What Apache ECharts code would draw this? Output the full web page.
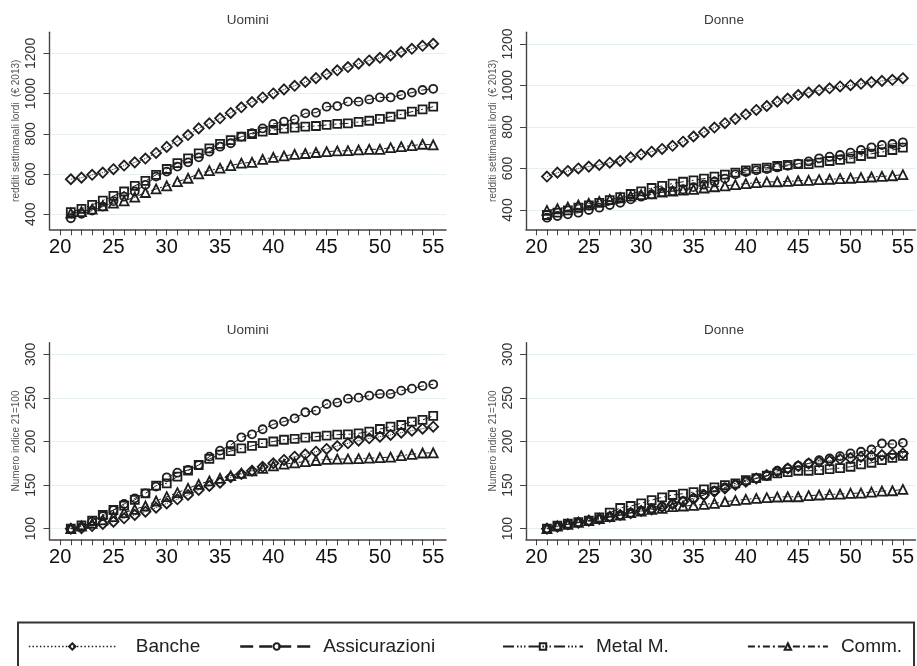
<!DOCTYPE html>
<html><head><meta charset="utf-8">
<script src="https://cdn.jsdelivr.net/npm/echarts@6/dist/echarts.min.js"></script>
<style>html,body{margin:0;padding:0;background:#fff}#c{width:917px;height:666px}</style>
</head><body><div id="c"></div>
<script>
// ---------- DATA ----------
const ages = [21,22,23,24,25,26,27,28,29,30,31,32,33,34,35,36,37,38,39,40,41,42,43,44,45,46,47,48,49,50,51,52,53,54,55];
const xTickValues = [20,21,22,23,24,25,26,27,28,29,30,31,32,33,34,35,36,37,38,39,40,41,42,43,44,45,46,47,48,49,50,51,52,53,54,55];
const xLabelValues = [20,25,30,35,40,45,50,55];
const yTicksEuro = [400,600,800,1000,1200];
const yTicksIndex = [100,150,200,250,300];
const seriesNames = ['Banche','Assicurazioni','Metal M.','Comm.'];
const panelTitles = ['Uomini','Donne','Uomini','Donne'];
const yNames = ['redditi settimanali lordi  (€ 2013)','redditi settimanali lordi  (€ 2013)','Numero indice 21=100','Numero indice 21=100'];

// Top-left: Uomini, weekly gross earnings (€ 2013)
const banche_U = [574,582,596,607,624,642,658,677,705,735,764,794,827,852,877,904,932,958,981,1001,1021,1039,1058,1077,1097,1116,1132,1149,1165,1178,1190,1207,1223,1238,1248];
const assic_U  = [380,402,418,438,465,488,513,546,587,612,637,658,683,711,736,753,786,803,827,849,861,872,902,905,935,938,960,960,971,981,981,993,1005,1018,1024];
const metal_U  = [410,427,447,468,491,513,541,566,596,625,654,678,703,728,750,769,786,799,811,819,826,831,836,839,844,849,852,859,865,874,885,897,910,922,935];
const comm_U   = [405,413,425,442,455,466,485,508,526,541,562,579,601,617,629,642,654,658,673,683,690,698,702,707,711,715,716,720,723,723,731,736,741,748,745];

// Top-right: Donne, weekly gross earnings (€ 2013)
const banche_D = [561,580,588,600,609,617,628,636,654,668,681,694,709,729,754,775,797,818,839,861,882,901,922,937,954,966,977,986,995,1001,1008,1016,1022,1027,1035];
const assic_D  = [363,371,379,387,400,411,424,435,451,464,475,486,491,499,510,522,536,551,572,583,591,597,605,613,623,634,649,657,665,676,689,702,713,718,726];
const metal_D  = [376,387,398,411,422,434,448,462,477,490,506,516,527,536,543,551,561,570,580,591,599,604,612,617,621,621,628,636,641,647,660,671,679,689,700];
const comm_D   = [398,406,414,424,432,441,451,459,467,474,478,486,491,496,499,506,512,516,522,527,532,535,536,538,541,543,546,548,551,553,556,559,562,565,570];

// Bottom-left: Uomini, index 21=100
const banche_Ui = [100,100.4,103,105.4,108,111.9,115.7,119.5,124,129,133.7,138.6,144.4,149,152.8,158.9,162.7,166.5,171,175,178.8,182.6,185.3,188.3,191.4,194.8,197.9,201,203.6,205.5,207.5,210.1,212.4,214.7,217];
const assic_Ui  = [100,102,108,114.5,121.4,128.3,134.8,140.5,148.2,158.9,164.2,167.3,173,182.6,189.5,196,204.8,208.2,214,219.7,222.8,226.6,233.5,235.4,243,244.6,249.1,250.3,252.6,254.5,254.5,258.3,260.6,263.7,265.6];
const metal_Ui  = [100,103.8,109.2,115.7,121.4,126.4,133,140.5,149.3,152,159.7,166.5,173,180,185,189,192,195,198,200,202,203,204.4,205.5,206.7,207.8,208.2,209.4,211.3,214.3,217,218.9,222.8,224.7,229.3];
const comm_Ui   = [100,103,106,110,113.8,118.4,122.2,126,131.7,136.7,141.3,146.3,150.9,154.7,157.7,160.8,163.5,166.2,169.2,172,174,175.5,177,178.2,179.5,179.8,180,180.3,180.8,181.5,182,183.7,185.3,186.8,187];

// Bottom-right: Donne, index 21=100
const banche_Di = [100,102.3,105,106.9,109.2,111,113.7,115.6,117.6,120.2,122.1,125.2,127.9,130.9,134.7,138.6,142.4,146.2,150,153.8,157.6,161.5,165.3,169.1,171.8,174.8,176.7,177.9,179.8,180.9,182.4,183.6,184.4,185.1,186.3];
const assic_Di  = [100,103,105,107,108.4,111.5,113.7,115.6,118.3,120.6,123.3,125.2,128.2,131.7,134.7,138.6,143.5,147.3,150.8,154.6,157.6,160.3,166.4,169,172.1,174.8,178.6,180.5,183.2,186.3,188.2,190.8,197.7,197,198.5];
const metal_Di  = [100,103.4,105.7,107.6,109.2,113,118.3,123.7,126,129,132.8,135.9,138.6,140.1,142,145,147.3,150,151.9,155.7,158,160.7,163.4,164.9,166.4,166.4,167.2,168.3,169.5,171,173.7,175.6,178.6,181.3,183.6];
const comm_Di   = [100,103,105,107.3,109.2,111.5,113.7,115.6,118.3,120.2,122.1,123.3,125.2,126,126.7,127.9,129,130.9,132.4,133.6,134.7,135.5,136.3,136.6,136.6,137.8,138.6,139.3,139.7,140.5,140.8,142,143.1,143.5,145];

const panelData = [
  [banche_U, assic_U, metal_U, comm_U],
  [banche_D, assic_D, metal_D, comm_D],
  [banche_Ui, assic_Ui, metal_Ui, comm_Ui],
  [banche_Di, assic_Di, metal_Di, comm_Di]
];

// ---------- STYLE / LAYOUT ----------
const FONT = 'Liberation Sans, Arial, sans-serif';
const INK = '#1e1e1e';
const grids = [
  {left: 49.5, top: 32.3, width: 396.5, height: 197},
  {left: 526,  top: 32.3, width: 396,   height: 197},
  {left: 49.5, top: 342.7, width: 396.5, height: 196.6},
  {left: 526,  top: 342.7, width: 396,   height: 196.6}
];
const yRanges = [[325,1305],[307,1256],[87.8,313.3],[87.8,313.3]];
const yTickSets = [yTicksEuro, yTicksEuro, yTicksIndex, yTicksIndex];
const markerStyles = [
  {symbol: 'diamond',  size: 10, line: 'dotted'},
  {symbol: 'circle',   size: 8,  line: [9,5]},
  {symbol: 'rect',     size: 8,  line: [9,3,2,3,2,3]},
  {symbol: 'triangle', size: 9,  line: [6,3,2,3]}
];

const xAxes = grids.map((g, i) => ({
  type: 'value', gridIndex: i, min: 19, max: 56.2,
  axisLine: {show: true, lineStyle: {color: '#444', width: 1.6}},
  axisTick: {show: true, length: 6, lineStyle: {color: '#444', width: 1}, customValues: xTickValues},
  axisLabel: {show: true, customValues: xLabelValues, fontSize: 20, color: '#111', fontFamily: FONT, margin: 8,
              formatter: v => String(v)},
  splitLine: {show: false}
}));
const yAxes = grids.map((g, i) => ({
  type: 'value', gridIndex: i, min: yRanges[i][0], max: yRanges[i][1],
  name: yNames[i], nameLocation: 'middle', nameGap: 28,
  nameTextStyle: {fontSize: 10, color: '#555', fontFamily: FONT},
  axisLine: {show: true, lineStyle: {color: '#444', width: 1.4}},
  axisTick: {show: true, length: 6, lineStyle: {color: '#444', width: 1}, customValues: yTickSets[i]},
  axisLabel: {show: true, customValues: yTickSets[i], rotate: 90, fontSize: 14, color: '#333', fontFamily: FONT, margin: 11,
              formatter: v => String(v)},
  splitLine: {show: true, lineStyle: {color: '#e6eff2', width: 1}}
}));

const series = [];
panelData.forEach((arrs, p) => {
  arrs.forEach((vals, k) => {
    const ms = markerStyles[k];
    series.push({
      name: seriesNames[k], type: 'line', xAxisIndex: p, yAxisIndex: p,
      data: ages.map((a, j) => [a, vals[j]]),
      symbol: ms.symbol, symbolSize: ms.size, showAllSymbol: true,
      lineStyle: {color: INK, width: 1, type: ms.line},
      itemStyle: {color: 'rgba(255,255,255,0)', borderColor: INK, borderWidth: 1.8},
      emphasis: {disabled: true}, silent: true
    });
  });
});

const titleCenters = [[247.75, 13],[724, 13],[247.75, 323],[724, 323]];
const titles = panelTitles.map((t, i) => ({
  text: t, left: titleCenters[i][0], top: titleCenters[i][1], textAlign: 'center', padding: 0,
  textStyle: {fontSize: 13.5, fontWeight: 'normal', color: '#3a3a3a', fontFamily: FONT}
}));

const legendSpecs = [
  {left: 23,  width: 87, pad: 15, line: [1.5,2.2], lw: 1.6},
  {left: 234, width: 73, pad: 5,  line: [13,6],     lw: 2.4},
  {left: 497, width: 80, pad: 8,  line: [11,3,1.5,2,1.5,2,1.5,3], lw: 2},
  {left: 742, width: 80, pad: 8,  line: [7,3,2,3], lw: 1.8}
];
const legends = seriesNames.map((n, i) => ({
  data: [n], left: legendSpecs[i].left, top: 632, orient: 'horizontal',
  itemWidth: legendSpecs[i].width, itemHeight: 8, selectedMode: false,
  lineStyle: {type: legendSpecs[i].line, width: legendSpecs[i].lw, color: INK},
  textStyle: {fontSize: 19, color: '#222', fontFamily: FONT, padding: [0,0,0,legendSpecs[i].pad]}
}));

const chart = echarts.init(document.getElementById('c'), null, {renderer: 'canvas'});
chart.setOption({
  animation: false,
  backgroundColor: '#fff',
  title: titles,
  grid: grids,
  xAxis: xAxes,
  yAxis: yAxes,
  legend: legends,
  graphic: [{
    type: 'rect', shape: {x: 18, y: 622.5, width: 896, height: 70},
    style: {fill: 'none', stroke: '#333', lineWidth: 2}, silent: true
  }],
  series: series
});
</script></body></html>
